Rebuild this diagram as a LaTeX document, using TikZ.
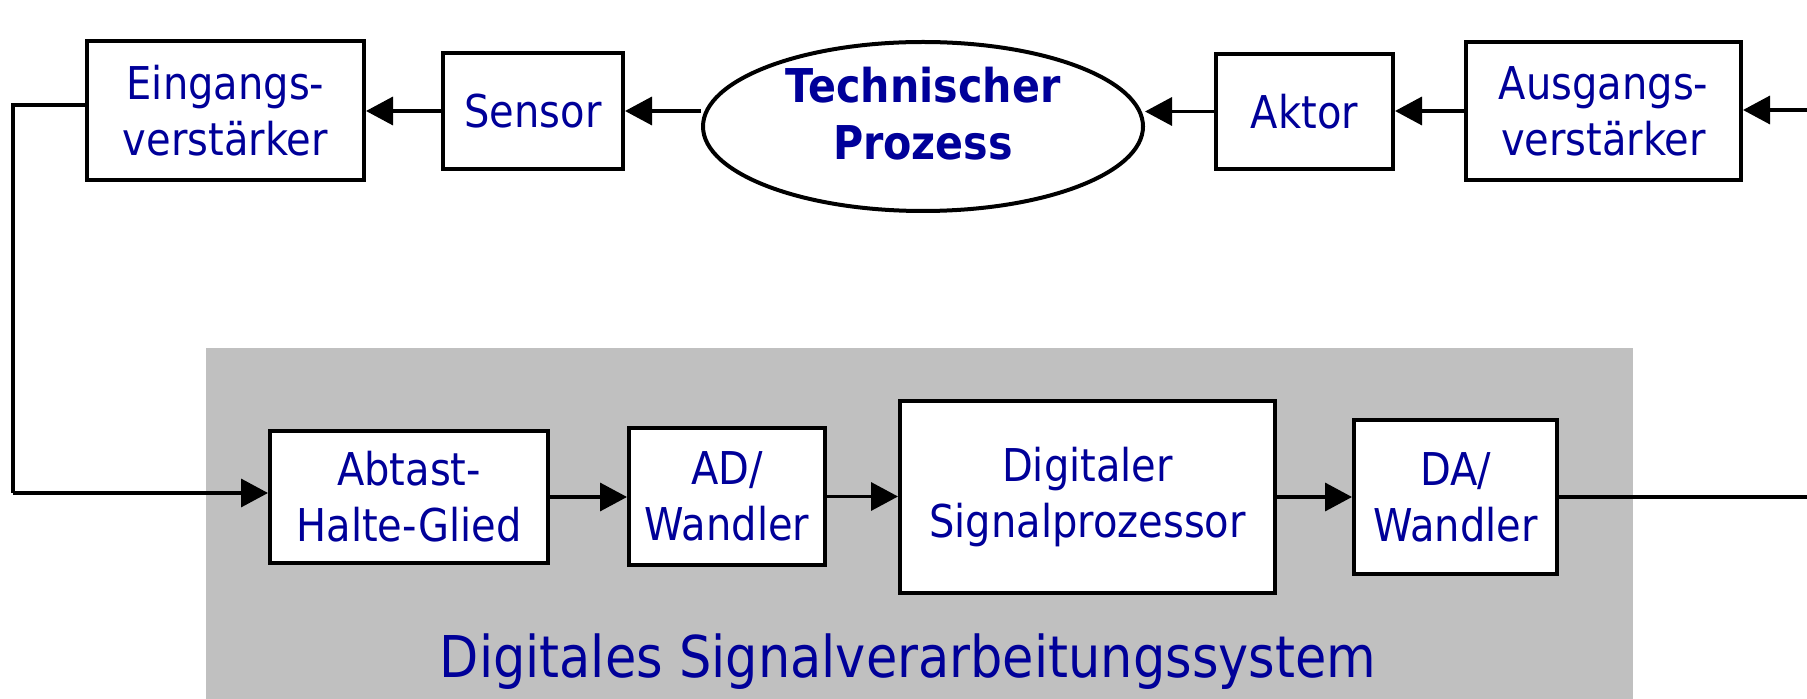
\documentclass[tikz,border=0pt]{standalone}
\usepackage{fontspec}
\setmainfont{DejaVu Sans}[FakeStretch=0.885]
\usetikzlibrary{arrows.meta,shapes.geometric}
\definecolor{txtblue}{RGB}{0,0,153}
\definecolor{panelgray}{RGB}{192,192,192}
\newcommand{\blklabel}{\fontsize{22.6pt}{28pt}\selectfont\color{txtblue}}
\newcommand{\prozlabel}{\fontsize{23.3pt}{28.5pt}\selectfont\bfseries\color{txtblue}}
\newcommand{\syslabel}{\fontsize{28.8pt}{34pt}\selectfont\color{txtblue}}
\tikzset{
  x=0.5pt, y=-0.5pt,
  blk/.style n args={2}{draw, line width=2pt, fill=white, inner sep=0pt,
    minimum width=#1, minimum height=#2, align=center, font=\blklabel},
  conn/.style={line width=1.75pt, -{Triangle[length=13.5pt,width=14pt]}},
  wire/.style={line width=1.75pt},
}
\begin{document}
\begin{tikzpicture}
\useasboundingbox (0,0) rectangle (1807,699);

% grey panel of the digital system
\fill[panelgray] (206,348) rectangle (1633,699);
\node[anchor=base, font=\syslabel, inner sep=0pt] (sys) at (908,677) {Digitales Signalverarbeitungssystem};

% upper chain
\node[blk={138.5pt}{69.5pt}] (ein) at (225.5,110.5) {Eingangs-\\verstärker};
\node[blk={90pt}{58pt}] (sen) at (533,111) {Sensor};
\node[draw, ellipse, line width=2pt, fill=white, inner sep=0pt,
      minimum width=220pt, minimum height=84.5pt] (prz) at (923,126.5) {};
\node[align=center, font=\prozlabel, inner sep=0pt] (prztxt) at (923,114) {Technischer\\Prozess};
\node[blk={88.5pt}{57.5pt}] (akt) at (1304.5,111.5) {Aktor};
\node[blk={137.5pt}{69pt}] (aus) at (1603.5,111) {Ausgangs-\\verstärker};

% lower chain
\node[blk={139pt}{66pt}] (abt) at (409,497) {Abtast-\\Halte-Glied};
\node[blk={98pt}{68.5pt}] (ad) at (727,496.5) {AD/\\Wandler};
\node[blk={187.5pt}{96pt}] (dsp) at (1087.5,497) {Digitaler\\Signalprozessor};
\node[blk={101.5pt}{77pt}] (da) at (1455.5,497) {DA/\\Wandler};

% free ends of the loop
\coordinate (lt) at (13,105);
\coordinate (lb) at (13,493);
\coordinate (rt) at (1807,110);
\coordinate (rb) at (1807,497);

% connectors
\draw[conn] (rt) -- (rt -| aus.east);
\draw[conn] (aus.west) -- (aus.west -| akt.east);
\draw[conn] (akt.west) -- (akt.west -| prz.east);
\draw[conn] (prz.west |- sen.east) -- (sen.east);
\draw[conn] (sen.west) -- (sen.west -| ein.east);
\draw[wire] (ein.west |- lt) -- (lt) -- (lb);
\draw[conn] (lb) -- (lb -| abt.west);
\draw[conn] (abt.east) -- (abt.east -| ad.west);
\draw[conn] (ad.east) -- (ad.east -| dsp.west);
\draw[conn] (dsp.east) -- (dsp.east -| da.west);
\draw[wire] (da.east) -- (rb);
\end{tikzpicture}
\end{document}
